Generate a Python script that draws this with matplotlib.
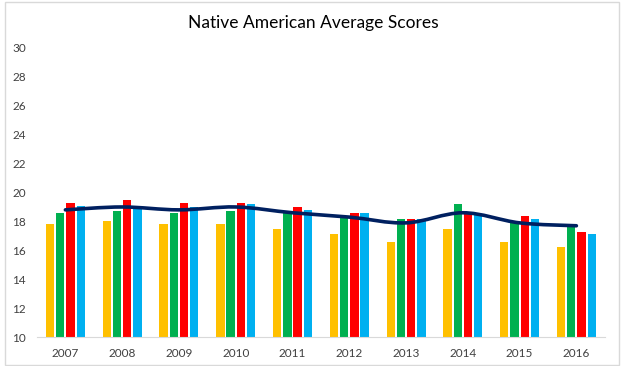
import numpy as np
import matplotlib
matplotlib.use("Agg")
import matplotlib.pyplot as plt
from matplotlib.path import Path
from matplotlib.patches import PathPatch, Rectangle

years = [2007, 2008, 2009, 2010, 2011, 2012, 2013, 2014, 2015, 2016]
orange = [17.8, 18.0, 17.8, 17.8, 17.5, 17.1, 16.6, 17.5, 16.6, 16.2]
green = [18.6, 18.7, 18.6, 18.7, 18.6, 18.4, 18.2, 19.2, 18.0, 17.7]
red = [19.3, 19.5, 19.3, 19.3, 19.0, 18.6, 18.2, 18.6, 18.4, 17.3]
blue = [19.1, 19.1, 19.0, 19.2, 18.8, 18.6, 18.2, 18.5, 18.2, 17.1]
average = [18.8, 19.0, 18.8, 19.0, 18.6, 18.3, 17.9, 18.6, 17.9, 17.7]

series = [orange, green, red, blue]
colors = ["#FFC000", "#00B050", "#FF0000", "#00B0F0"]

plt.rcParams["font.family"] = ["Lato", "DejaVu Sans"]

fig = plt.figure(figsize=(6.26, 3.66), dpi=100)
ax = fig.add_axes([0.0591, 0.079, 0.907, 0.79])

x = np.arange(len(years))
width = 0.145
step = 0.18
for i, (vals, c) in enumerate(zip(series, colors)):
    ax.bar(x + (i - 1.5) * step, [v - 10 for v in vals], width, bottom=10, color=c, zorder=2)

# smoothed line (catmull-rom -> bezier), like excel's smoothed line
pts = np.column_stack([x, average]).astype(float)
verts = [tuple(pts[0])]
codes = [Path.MOVETO]
for k in range(len(pts) - 1):
    p0 = pts[k - 1] if k > 0 else pts[k]
    p1 = pts[k]
    p2 = pts[k + 1]
    p3 = pts[k + 2] if k + 2 < len(pts) else pts[k + 1]
    c1 = p1 + (p2 - p0) / 6.0
    c2 = p2 - (p3 - p1) / 6.0
    verts += [tuple(c1), tuple(c2), tuple(p2)]
    codes += [Path.CURVE4] * 3
ax.add_patch(PathPatch(Path(verts, codes), facecolor="none", edgecolor="#002060",
                       lw=2.6, zorder=3, capstyle="round"))

ax.set_xlim(-0.5, len(years) - 0.5)
ax.set_ylim(10, 30)
ax.set_yticks(range(10, 31, 2))
ax.set_xticks(x)
ax.set_xticklabels([str(y) for y in years])
ax.tick_params(axis="both", length=0, labelsize=8.5, colors="#404040")
ax.tick_params(axis="x", pad=8)
ax.tick_params(axis="y", pad=8)
for s in ["top", "right", "left"]:
    ax.spines[s].set_visible(False)
ax.spines["bottom"].set_color("#D9D9D9")

fig.text(0.5, 0.937, "Native American Average Scores", ha="center", va="center",
         fontsize=12.5, color="#000000")

fig.patches.append(Rectangle((0.008, 0.003), 0.981, 0.992, transform=fig.transFigure,
                             fill=False, edgecolor="#D9D9D9", lw=1))

fig.savefig("out.png", dpi=100)
